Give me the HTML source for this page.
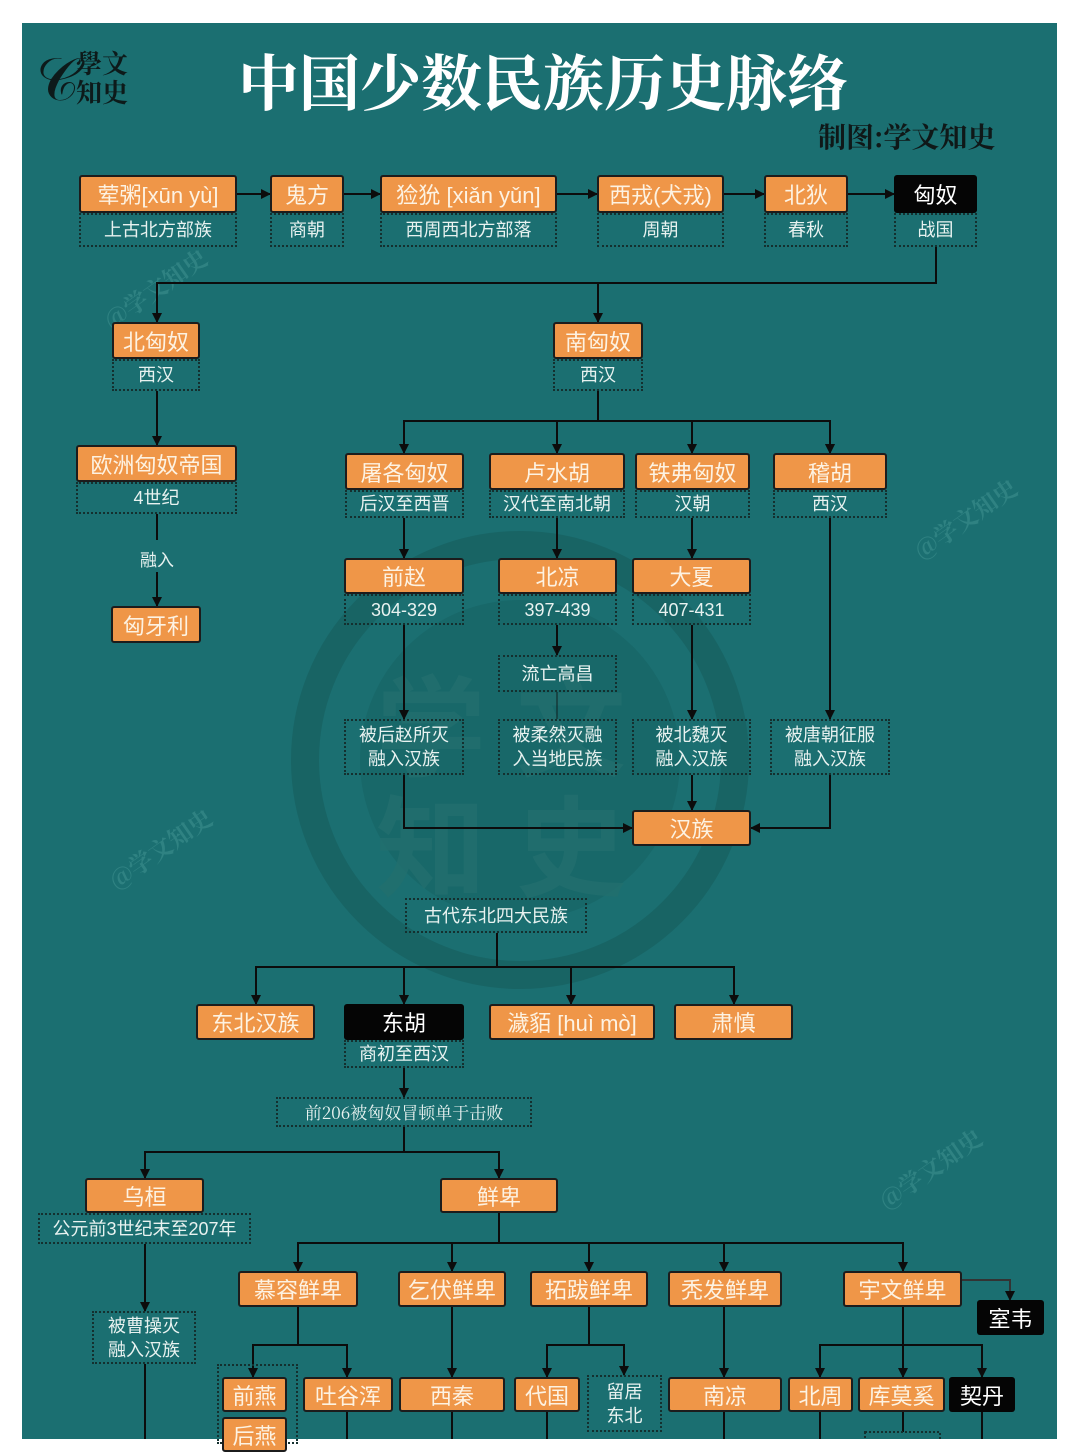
<!DOCTYPE html>
<html><head><meta charset="utf-8"><style>
*{box-sizing:border-box;margin:0;padding:0}
body{width:1080px;height:1439px;background:#fff;position:relative;overflow:hidden;font-family:"Liberation Sans","Noto Sans CJK SC",sans-serif}
#bg{position:absolute;left:22px;top:23px;width:1035px;height:1416px;background:#1b6f71;overflow:hidden}
.b{position:absolute;display:flex;align-items:center;justify-content:center;text-align:center;white-space:nowrap}
.o{background:#ef9648;border:2px solid #1c1c1c;border-radius:3px;color:#fdf2e2;font-size:22px}
.k{background:#050505;border-radius:3px;color:#fff;font-size:22px}
.d{border:2px dotted #14302f;color:#e8f2f0;font-size:18px;line-height:24px}
svg{position:absolute;left:0;top:0}
.wm{position:absolute;color:#2f8282;font-size:24px;transform:rotate(-35deg);font-family:"Noto Serif CJK SC",serif;font-weight:bold}
</style></head><body>
<div id="bg"></div>
<svg width="1080" height="1439">
<circle cx="520" cy="760" r="215" fill="none" stroke="#17605f" stroke-width="28" opacity=".7"/>
<circle cx="520" cy="760" r="160" fill="#17605f" opacity=".45"/>
</svg>
<div class="wm" style="left:95px;top:270px">@学文知史</div>
<div class="wm" style="left:905px;top:500px">@学文知史</div>
<div class="wm" style="left:100px;top:830px">@学文知史</div>
<div class="wm" style="left:870px;top:1150px">@学文知史</div>
<div style="position:absolute;left:376px;top:640px;font-size:110px;color:#226f6e;font-family:'Noto Sans CJK SC',sans-serif;font-weight:bold;letter-spacing:30px;opacity:.8">学文</div>
<div style="position:absolute;left:376px;top:760px;font-size:110px;color:#226f6e;font-family:'Noto Sans CJK SC',sans-serif;font-weight:bold;letter-spacing:30px;opacity:.8">知史</div>

<div style="position:absolute;left:36px;top:40px;font-size:60px;color:#0d1a1a;font-family:'Noto Serif CJK SC',serif;line-height:70px">𝒞</div>
<div style="position:absolute;left:76px;top:48px;font-size:26px;line-height:29px;color:#0d1a1a;font-family:'Noto Serif CJK SC',serif;font-weight:bold">學文<br>知史</div>
<div style="position:absolute;left:238px;top:42px;font-size:61px;color:#fff;font-family:'Noto Serif CJK SC',serif;font-weight:bold;line-height:76px;white-space:nowrap">中国少数民族历史脉络</div>
<div style="position:absolute;left:818px;top:116px;font-size:28px;color:#0f1818;font-family:'Noto Serif CJK SC',serif;font-weight:bold;white-space:nowrap">制图:学文知史</div>

<svg width="1080" height="1439">
<defs><marker id="a" markerWidth="10" markerHeight="10" refX="9" refY="5" orient="auto" markerUnits="userSpaceOnUse"><path d="M0,0 L10,5 L0,10z" fill="#0c0c0c"/></marker></defs>
<g stroke="#0c0c0c" stroke-width="2" fill="none">
<path d="M237 194H270" marker-end="url(#a)"/><path d="M344 194H380" marker-end="url(#a)"/><path d="M557 194H597" marker-end="url(#a)"/><path d="M724 194H764" marker-end="url(#a)"/><path d="M848 194H894" marker-end="url(#a)"/>
<path d="M936 247V283H157V322" marker-end="url(#a)"/><path d="M598 283V322" marker-end="url(#a)"/>
<path d="M157 391V445" marker-end="url(#a)"/><path d="M157 514V540"/><path d="M157 572V606" marker-end="url(#a)"/>
<path d="M598 391V421"/><path d="M404 453V421H830V453" marker-end="url(#a)"/>
<path d="M404 421V453" marker-end="url(#a)"/><path d="M557 421V453" marker-end="url(#a)"/><path d="M692 421V453" marker-end="url(#a)"/><path d="M830 421V453" marker-end="url(#a)"/>
<path d="M404 518V558" marker-end="url(#a)"/><path d="M557 518V558" marker-end="url(#a)"/><path d="M692 518V558" marker-end="url(#a)"/><path d="M830 518V719" marker-end="url(#a)"/>
<path d="M404 625V719" marker-end="url(#a)"/><path d="M557 625V655" marker-end="url(#a)"/><path d="M692 625V719" marker-end="url(#a)"/>
<path d="M557 692V719" opacity=".4"/>
<path d="M692 775V810" marker-end="url(#a)"/><path d="M404 775V828H632" marker-end="url(#a)"/><path d="M830 775V828H751" marker-end="url(#a)"/>
<path d="M497 933V967"/><path d="M256 1004V967H734V1004" marker-end="url(#a)"/><path d="M256 967V1004" marker-end="url(#a)"/><path d="M404 967V1004" marker-end="url(#a)"/><path d="M571 967V1004" marker-end="url(#a)"/>
<path d="M404 1068V1097" marker-end="url(#a)"/>
<path d="M404 1127V1152"/><path d="M145 1178V1152H499V1178" marker-end="url(#a)"/><path d="M145 1152V1178" marker-end="url(#a)"/>
<path d="M145 1244V1311" marker-end="url(#a)"/><path d="M145 1364V1439"/>
<path d="M499 1213V1243"/><path d="M298 1271V1243H903V1271" marker-end="url(#a)"/><path d="M298 1243V1271" marker-end="url(#a)"/><path d="M452 1243V1271" marker-end="url(#a)"/><path d="M589 1243V1271" marker-end="url(#a)"/><path d="M724 1243V1271" marker-end="url(#a)"/>
<path d="M962 1280H1010V1300" marker-end="url(#a)" stroke="#333"/>
<path d="M298 1307V1345"/><path d="M253 1377V1345H347V1377" marker-end="url(#a)"/><path d="M253 1345V1377" marker-end="url(#a)"/>
<path d="M452 1307V1377" marker-end="url(#a)"/>
<path d="M589 1307V1345"/><path d="M547 1377V1345H624V1375" marker-end="url(#a)"/><path d="M547 1345V1377" marker-end="url(#a)"/>
<path d="M724 1307V1377" marker-end="url(#a)"/>
<path d="M903 1307V1377" marker-end="url(#a)"/><path d="M820 1377V1345H982V1377" marker-end="url(#a)"/><path d="M820 1345V1377" marker-end="url(#a)"/>
<path d="M347 1412V1439"/><path d="M452 1412V1439"/><path d="M547 1412V1439"/><path d="M724 1412V1439"/><path d="M820 1412V1439"/><path d="M903 1412V1432"/><path d="M982 1412V1439"/>
</g>
<rect x="865" y="1432" width="75" height="20" fill="none" stroke="#14302f" stroke-width="2" stroke-dasharray="2 2"/>
</svg>

<div class="b o" style="left:79px;top:175px;width:158px;height:38px">荤粥[xūn yù]</div>
<div class="b d" style="left:79px;top:213px;width:158px;height:34px">上古北方部族</div>
<div class="b o" style="left:270px;top:175px;width:74px;height:38px">鬼方</div>
<div class="b d" style="left:270px;top:213px;width:74px;height:34px">商朝</div>
<div class="b o" style="left:380px;top:175px;width:177px;height:38px">猃狁 [xiǎn yǔn]</div>
<div class="b d" style="left:380px;top:213px;width:177px;height:34px">西周西北方部落</div>
<div class="b o" style="left:597px;top:175px;width:127px;height:38px">西戎(犬戎)</div>
<div class="b d" style="left:597px;top:213px;width:127px;height:34px">周朝</div>
<div class="b o" style="left:764px;top:175px;width:84px;height:38px">北狄</div>
<div class="b d" style="left:764px;top:213px;width:84px;height:34px">春秋</div>
<div class="b k" style="left:894px;top:175px;width:83px;height:38px">匈奴</div>
<div class="b d" style="left:894px;top:213px;width:83px;height:34px">战国</div>

<div class="b o" style="left:112px;top:322px;width:88px;height:37px">北匈奴</div>
<div class="b d" style="left:112px;top:359px;width:88px;height:32px">西汉</div>
<div class="b o" style="left:553px;top:322px;width:90px;height:37px">南匈奴</div>
<div class="b d" style="left:553px;top:359px;width:90px;height:32px">西汉</div>
<div class="b o" style="left:76px;top:445px;width:161px;height:37px">欧洲匈奴帝国</div>
<div class="b d" style="left:76px;top:482px;width:161px;height:32px">4世纪</div>
<div class="b" style="left:127px;top:545px;width:60px;height:26px;color:#e8f2f0;font-size:17px">融入</div>
<div class="b o" style="left:111px;top:606px;width:90px;height:37px">匈牙利</div>

<div class="b o" style="left:345px;top:453px;width:119px;height:37px">屠各匈奴</div>
<div class="b d" style="left:345px;top:490px;width:119px;height:28px">后汉至西晋</div>
<div class="b o" style="left:489px;top:453px;width:136px;height:37px">卢水胡</div>
<div class="b d" style="left:489px;top:490px;width:136px;height:28px">汉代至南北朝</div>
<div class="b o" style="left:635px;top:453px;width:115px;height:37px">铁弗匈奴</div>
<div class="b d" style="left:635px;top:490px;width:115px;height:28px">汉朝</div>
<div class="b o" style="left:773px;top:453px;width:114px;height:37px">稽胡</div>
<div class="b d" style="left:773px;top:490px;width:114px;height:28px">西汉</div>

<div class="b o" style="left:344px;top:558px;width:120px;height:36px">前赵</div>
<div class="b d" style="left:344px;top:594px;width:120px;height:31px">304-329</div>
<div class="b o" style="left:498px;top:558px;width:119px;height:36px">北凉</div>
<div class="b d" style="left:498px;top:594px;width:119px;height:31px">397-439</div>
<div class="b o" style="left:632px;top:558px;width:119px;height:36px">大夏</div>
<div class="b d" style="left:632px;top:594px;width:119px;height:31px">407-431</div>
<div class="b d" style="left:498px;top:655px;width:119px;height:37px">流亡高昌</div>
<div class="b d" style="left:344px;top:719px;width:120px;height:56px">被后赵所灭<br>融入汉族</div>
<div class="b d" style="left:498px;top:719px;width:119px;height:56px">被柔然灭融<br>入当地民族</div>
<div class="b d" style="left:632px;top:719px;width:119px;height:56px">被北魏灭<br>融入汉族</div>
<div class="b d" style="left:770px;top:719px;width:120px;height:56px">被唐朝征服<br>融入汉族</div>
<div class="b o" style="left:632px;top:810px;width:119px;height:36px">汉族</div>

<div class="b d" style="left:405px;top:898px;width:182px;height:35px">古代东北四大民族</div>
<div class="b o" style="left:196px;top:1004px;width:119px;height:36px">东北汉族</div>
<div class="b k" style="left:344px;top:1004px;width:120px;height:36px">东胡</div>
<div class="b d" style="left:344px;top:1040px;width:120px;height:28px">商初至西汉</div>
<div class="b o" style="left:489px;top:1004px;width:166px;height:36px">濊貊 [huì mò]</div>
<div class="b o" style="left:674px;top:1004px;width:119px;height:36px">肃慎</div>
<div class="b d" style="left:276px;top:1097px;width:256px;height:30px;font-family:'Noto Serif CJK SC',serif;font-size:17px">前206被匈奴冒顿单于击败</div>

<div class="b o" style="left:85px;top:1178px;width:119px;height:35px">乌桓</div>
<div class="b d" style="left:38px;top:1213px;width:213px;height:31px">公元前3世纪末至207年</div>
<div class="b o" style="left:440px;top:1178px;width:118px;height:35px">鲜卑</div>
<div class="b d" style="left:92px;top:1311px;width:104px;height:53px">被曹操灭<br>融入汉族</div>

<div class="b o" style="left:238px;top:1271px;width:120px;height:36px">慕容鲜卑</div>
<div class="b o" style="left:398px;top:1271px;width:108px;height:36px">乞伏鲜卑</div>
<div class="b o" style="left:530px;top:1271px;width:118px;height:36px">拓跋鲜卑</div>
<div class="b o" style="left:668px;top:1271px;width:114px;height:36px">秃发鲜卑</div>
<div class="b o" style="left:843px;top:1271px;width:119px;height:36px">宇文鲜卑</div>
<div class="b k" style="left:977px;top:1300px;width:67px;height:35px">室韦</div>

<div class="b d" style="left:217px;top:1364px;width:81px;height:80px"></div>
<div class="b o" style="left:222px;top:1377px;width:65px;height:35px">前燕</div>
<div class="b o" style="left:222px;top:1417px;width:65px;height:35px">后燕</div>
<div class="b o" style="left:303px;top:1377px;width:90px;height:35px">吐谷浑</div>
<div class="b o" style="left:399px;top:1377px;width:106px;height:35px">西秦</div>
<div class="b o" style="left:514px;top:1377px;width:66px;height:35px">代国</div>
<div class="b d" style="left:587px;top:1375px;width:75px;height:57px">留居<br>东北</div>
<div class="b o" style="left:668px;top:1377px;width:114px;height:35px">南凉</div>
<div class="b o" style="left:788px;top:1377px;width:65px;height:35px">北周</div>
<div class="b o" style="left:858px;top:1377px;width:87px;height:35px">库莫奚</div>
<div class="b k" style="left:949px;top:1377px;width:66px;height:35px">契丹</div>
</body></html>
